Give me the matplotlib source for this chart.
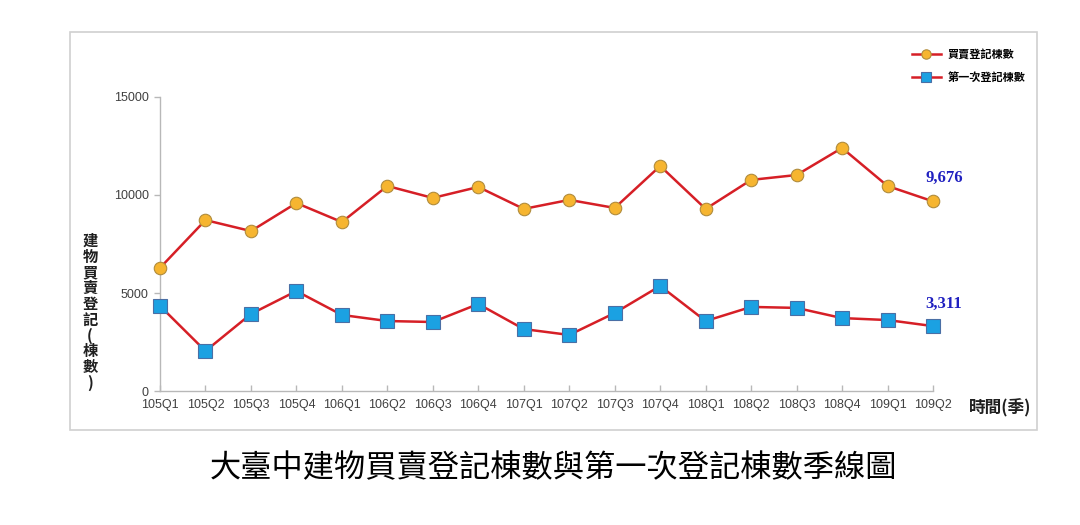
import matplotlib
matplotlib.use('Agg')
import matplotlib.pyplot as plt
from matplotlib.patches import Rectangle

plt.rcParams['font.family'] = ['Noto Sans CJK TC', 'DejaVu Sans']
plt.rcParams['axes.unicode_minus'] = False

# --- 資料 ---
quarters = ['105Q1', '105Q2', '105Q3', '105Q4', '106Q1', '106Q2', '106Q3', '106Q4',
            '107Q1', '107Q2', '107Q3', '107Q4', '108Q1', '108Q2', '108Q3', '108Q4',
            '109Q1', '109Q2']
sales = [6280, 8720, 8160, 9590, 8620, 10460, 9850, 10410,
         9290, 9750, 9340, 11480, 9290, 10770, 11020, 12400,
         10460, 9676]
first_reg = [4340, 2040, 3930, 5100, 3880, 3570, 3520, 4440,
             3160, 2860, 3980, 5360, 3570, 4290, 4240, 3720,
             3620, 3311]
legend_names = ['買賣登記棟數', '第一次登記棟數']

fig = plt.figure(figsize=(10.8, 5.25), dpi=100)
fig.patch.set_facecolor('white')

# 圖表外框
fig.patches.append(Rectangle((70 / 1080, 1 - 430 / 525), (1037 - 70) / 1080, (430 - 32) / 525,
                             transform=fig.transFigure, fill=False,
                             edgecolor='#d0d0d0', linewidth=1.2))

ax = fig.add_axes([160 / 1080, 1 - 391 / 525, (933 - 160) / 1080, (391 - 97) / 525])
x = list(range(len(quarters)))

l1, = ax.plot(x, sales, color='#d61f26', linewidth=1.8, marker='o', markersize=9,
              markerfacecolor='#f6b530', markeredgecolor='#b08c3c', markeredgewidth=0.8,
              clip_on=False, zorder=3)
l2, = ax.plot(x, first_reg, color='#d61f26', linewidth=1.8, marker='s', markersize=10,
              markerfacecolor='#1ba1e2', markeredgecolor='#4a6fa5', markeredgewidth=0.8,
              clip_on=False, zorder=3)

ax.set_xlim(0, len(quarters) - 1)
ax.set_ylim(0, 15000)
ax.set_yticks([0, 5000, 10000, 15000])
ax.set_xticks(x)
ax.set_xticklabels(quarters)

for s in ['top', 'right']:
    ax.spines[s].set_visible(False)
for s in ['left', 'bottom']:
    ax.spines[s].set_color('#b8b8b8')
    ax.spines[s].set_linewidth(1)
ax.tick_params(axis='both', colors='#b8b8b8', labelcolor='#404040', labelsize=9,
               length=4, width=1)
ax.tick_params(axis='x', direction='in', pad=6)
ax.tick_params(axis='y', direction='out', pad=4)
for lab in ax.get_xticklabels() + ax.get_yticklabels():
    lab.set_family(['Liberation Sans', 'DejaVu Sans'])

# 最後一季數值
ax.annotate(f'{sales[-1]:,}', (x[-1], sales[-1]), xytext=(8, 11), textcoords='offset points',
            ha='center', va='bottom', color='#2020c0', fontsize=12, fontweight='bold',
            family='Liberation Serif')
ax.annotate(f'{first_reg[-1]:,}', (x[-1], first_reg[-1]), xytext=(8, 10), textcoords='offset points',
            ha='center', va='bottom', color='#2020c0', fontsize=12, fontweight='bold',
            family='Liberation Serif')

# 軸標題
fig.text(90 / 1080, 1 - 312 / 525, '建\n物\n買\n賣\n登\n記\n(\n棟\n數\n)', ha='center', va='center',
         fontsize=11, fontweight='bold', linespacing=0.98, color='#202020')
fig.text(1000 / 1080, 1 - 408 / 525, '時間(季)', ha='center', va='center',
         fontsize=12, fontweight='bold', color='#202020')

# 圖例
fig.legend([l1, l2], legend_names, loc='upper left', bbox_to_anchor=(902 / 1080, 1 - 38 / 525),
           frameon=False, handlelength=2.6, markerscale=0.75,
           labelspacing=0.9, handletextpad=0.6,
           prop={'size': 8, 'weight': 'bold'})

# 圖說
fig.text(553 / 1080, 1 - 468 / 525, '大臺中建物買賣登記棟數與第一次登記棟數季線圖',
         ha='center', va='center', fontsize=22.5, color='black')

fig.savefig('out.png', dpi=100)
